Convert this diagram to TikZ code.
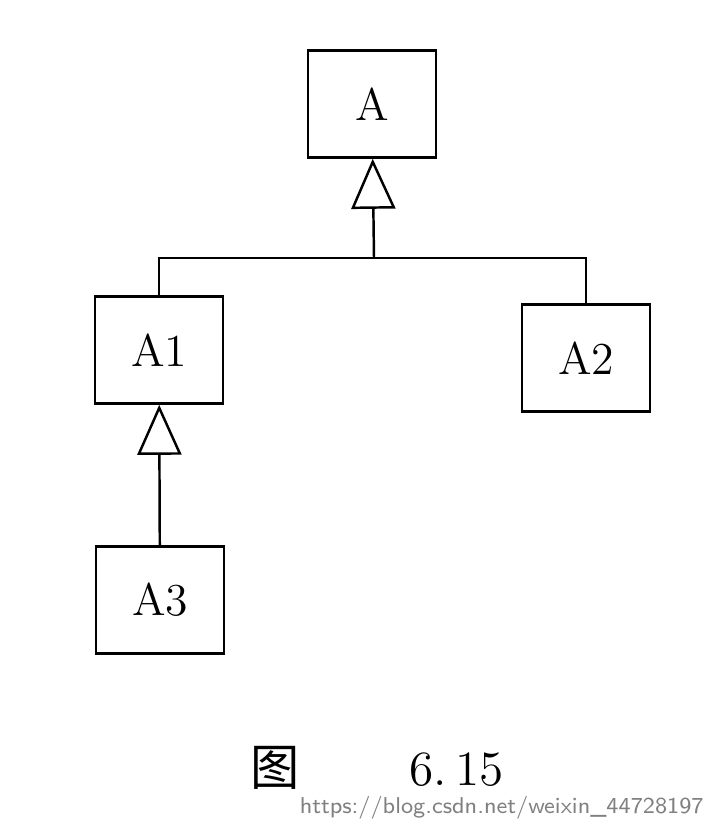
\documentclass[tikz,border=0pt]{standalone}
\usepackage{fontspec}
\newfontfamily\cjk{Noto Sans CJK SC}
\usetikzlibrary{arrows.meta}
\tikzstyle{cls}=[rectangle,draw,line width=0.7pt,minimum width=1.28cm,minimum height=1.07cm,inner sep=0pt,font=\fontsize{13}{15}\selectfont]
\tikzstyle{inherit}=[draw,line width=0.7pt,-{Triangle[open,length=0.5cm,width=0.44cm]}]

\begin{document}
\begin{tikzpicture}[x=0.01cm,y=-0.01cm]
	\useasboundingbox (0,0) rectangle (724,827);
	\node [cls] (A) at (372,104) {A};
	\node [cls] (A1) at (159,350) {A1};
	\node [cls] (A2) at (586,358) {A2};
	\node [cls] (A3) at (160,600) {A3};
	
	\coordinate (j) at (374,258);
	\coordinate (jl) at (159,258);
	\coordinate (jr) at (586,258);
	
	\draw [inherit] (j) -- (A);
	\draw [line width=0.7pt] (A1) -- (jl) -- (jr) -- (A2);
	\draw [inherit] (A3) -- (A1);
	
	\node (cap) at (377,768) {\fontsize{14}{16}\selectfont{\cjk 图}\hspace{1.1cm}6.\,15};
	\node [text=gray,font=\sffamily\fontsize{6.5}{8}\selectfont,anchor=east] (wm) at (716,808) {https://blog.csdn.net/weixin\_44728197};
\end{tikzpicture}
\end{document}
